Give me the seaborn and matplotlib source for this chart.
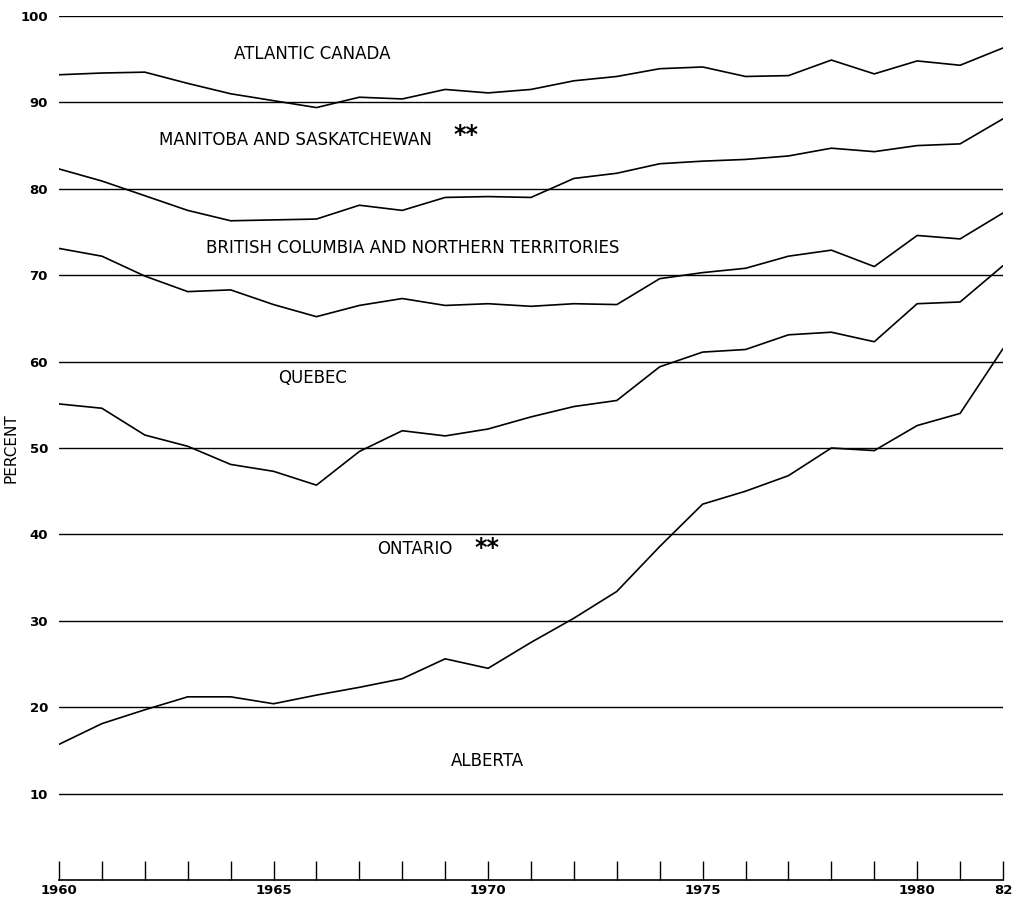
import matplotlib
matplotlib.use("Agg")
import matplotlib.pyplot as plt
import seaborn as sns
import pandas as pd

years = list(range(1960, 1983))

# cumulative boundaries (percent), bottom to top
alberta_top = [15.7, 18.1, 19.7, 21.2, 21.2, 20.4, 21.4, 22.3, 23.3, 25.6, 24.5, 27.5,
               30.3, 33.4, 38.6, 43.5, 45.0, 46.8, 50.0, 49.7, 52.6, 54.0, 61.5]
ontario_top = [55.1, 54.6, 51.5, 50.2, 48.1, 47.3, 45.7, 49.6, 52.0, 51.4, 52.2, 53.6,
               54.8, 55.5, 59.4, 61.1, 61.4, 63.1, 63.4, 62.3, 66.7, 66.9, 71.1]
quebec_top = [73.1, 72.2, 69.9, 68.1, 68.3, 66.6, 65.2, 66.5, 67.3, 66.5, 66.7, 66.4,
              66.7, 66.6, 69.6, 70.3, 70.8, 72.2, 72.9, 71.0, 74.6, 74.2, 77.2]
bc_top = [82.3, 80.9, 79.2, 77.5, 76.3, 76.4, 76.5, 78.1, 77.5, 79.0, 79.1, 79.0,
          81.2, 81.8, 82.9, 83.2, 83.4, 83.8, 84.7, 84.3, 85.0, 85.2, 88.1]
mansask_top = [93.2, 93.4, 93.5, 92.2, 91.0, 90.2, 89.4, 90.6, 90.4, 91.5, 91.1, 91.5,
               92.5, 93.0, 93.9, 94.1, 93.0, 93.1, 94.9, 93.3, 94.8, 94.3, 96.3]

region_labels = ["ATLANTIC CANADA", "MANITOBA AND SASKATCHEWAN",
                 "BRITISH COLUMBIA AND NORTHERN TERRITORIES", "QUEBEC", "ONTARIO", "ALBERTA"]
y_ticks = [10, 20, 30, 40, 50, 60, 70, 80, 90, 100]
x_label_years = {1960: "1960", 1965: "1965", 1970: "1970", 1975: "1975", 1980: "1980", 1982: "82"}

series = {"alberta": alberta_top, "ontario": ontario_top, "quebec": quebec_top,
          "bc": bc_top, "mansask": mansask_top}
df = pd.DataFrame([(y, name, v) for name, vals in series.items() for y, v in zip(years, vals)],
                  columns=["year", "series", "value"])

sns.set_style("white")
plt.rcParams['font.family'] = ['DejaVu Sans']
plt.rcParams['text.color'] = 'black'
plt.rcParams['axes.labelcolor'] = 'black'
plt.rcParams['xtick.color'] = 'black'
plt.rcParams['ytick.color'] = 'black'

fig = plt.figure(figsize=(10.16, 9.05), dpi=100)
ax = fig.add_axes([59/1016, 1 - 880/905, (1003-59)/1016, (880-16)/905])

sns.lineplot(data=df, x="year", y="value", units="series", estimator=None,
             color="black", linewidth=1.2, ax=ax)

ax.set_xlim(1960, 1982)
ax.set_ylim(0, 100)
ax.set_yticks(y_ticks)
ax.set_yticklabels([str(t) for t in y_ticks], fontweight="bold", fontsize=9.5)
ax.tick_params(axis="y", left=False, length=0, pad=8, labelcolor="black")
ax.yaxis.grid(True, color="black", linewidth=1.0)
ax.set_axisbelow(True)

ax.set_xticks(years)
ax.set_xticklabels([x_label_years.get(y, "") for y in years], fontweight="bold", fontsize=9.5)
ax.tick_params(axis="x", bottom=True, direction="in", length=14, width=1.0,
               color="black", labelcolor="black", pad=3)
ax.set_xlabel("")
ax.set_ylabel("PERCENT", fontsize=11, color="black")
ax.yaxis.set_label_coords(-0.043, 0.5)

for s in ["left", "right", "top"]:
    ax.spines[s].set_visible(False)
ax.spines["bottom"].set_color("black")
ax.spines["bottom"].set_linewidth(1.2)

txt = dict(fontsize=12, color="black", ha="center", va="center")
star = dict(fontsize=17, fontweight="bold", color="black", ha="center", va="center")
ax.text(1965.9, 95.6, region_labels[0], **txt)
ax.text(1965.5, 85.6, region_labels[1], **txt)
ax.text(1969.49, 86.2, "**", **star)
ax.text(1968.25, 73.1, region_labels[2], **txt)
ax.text(1965.9, 58.1, region_labels[3], **txt)
ax.text(1968.3, 38.3, region_labels[4], **txt)
ax.text(1969.98, 38.4, "**", **star)
ax.text(1969.98, 13.8, region_labels[5], **txt)

fig.savefig("out.png", dpi=100)
